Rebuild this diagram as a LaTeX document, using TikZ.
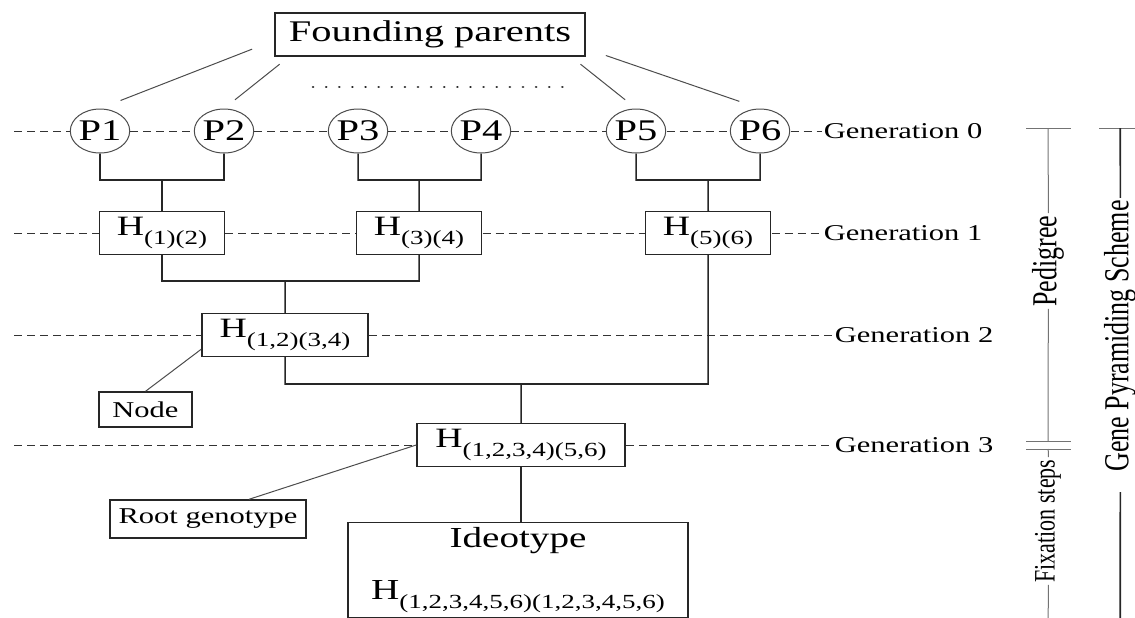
\documentclass[tikz,border=0pt]{standalone}
\usepackage{fontspec}
\setmainfont{Liberation Serif}
\newcommand{\hsub}[1]{H\raisebox{-4.2pt}{\fontsize{10}{12}\selectfont #1}}
\tikzset{
  gen/.style={draw=black!80, line width=0.5pt, dash pattern=on 4pt off 2.5pt},
  tree/.style={draw=black!85, line width=0.8pt},
  link/.style={draw=black!70, line width=0.5pt},
  dots/.style={draw=black!85, line width=1.4pt, line cap=round, dash pattern=on 0.01pt off 6.55pt},
  bar/.style={draw=black!55, line width=0.5pt},
  parent/.style={circle, draw=black!70, line width=0.5pt, minimum size=22pt, inner sep=0pt, font=\fontsize{15}{18}\selectfont},
  hbox/.style={rectangle, draw=black!85, line width=0.7pt, minimum width=46.3pt, minimum height=21.5pt, inner sep=0pt, font=\fontsize{14}{17}\selectfont},
  tagbox/.style={rectangle, draw=black!85, line width=0.7pt, inner sep=0pt, font=\fontsize{11.3}{13}\selectfont},
  genlabel/.style={anchor=west, inner sep=0.5pt, font=\fontsize{11.3}{13}\selectfont},
  sidetext/.style={rotate=90, inner sep=1pt, font=\fontsize{11}{13}\selectfont}
}
\begin{document}
\begin{tikzpicture}[xscale=1.35, x=0.37037pt, y=-0.5pt, every node/.style={transform shape}]
    \useasboundingbox (0,0) rectangle (1135,618);
    % founding parents and generation 0
    \node[hbox, minimum width=114.8pt, font=\fontsize{15}{18}\selectfont] (fp) at (430,34.5) {Founding parents};
    \node[parent] (p1) at (100,131) {P1};
    \node[parent] (p2) at (224,131) {P2};
    \node[parent] (p3) at (358,131) {P3};
    \node[parent] (p4) at (481,131) {P4};
    \node[parent] (p5) at (636,131) {P5};
    \node[parent] (p6) at (760,131) {P6};
    % haplotype nodes
    \node[hbox] (h12) at (162,233) {\hsub{(1)(2)}};
    \node[hbox] (h34) at (419,233) {\hsub{(3)(4)}};
    \node[hbox] (h56) at (708,233) {\hsub{(5)(6)}};
    \node[hbox, minimum width=61.5pt] (h1234) at (285,335) {\hsub{(1,2)(3,4)}};
    \node[hbox, minimum width=77pt] (h3) at (521,445) {\hsub{(1,2,3,4)(5,6)}};
    \node[hbox, minimum width=126pt, minimum height=47.5pt, align=center, font=\fontsize{14.5}{17.5}\selectfont] (ideo) at (518,570)
        {Ideotype\\[8.5pt]\hsub{(1,2,3,4,5,6)(1,2,3,4,5,6)}};
    \node[tagbox, minimum width=34.4pt, minimum height=17.5pt] (nd) at (145.5,409.5) {Node};
    \node[tagbox, minimum width=72.6pt, minimum height=19pt] (root) at (208,519) {Root genotype};
    % generation labels
    \node[genlabel] (g0) at (822,131) {Generation 0};
    \node[genlabel] (g1) at (822,233) {Generation 1};
    \node[genlabel] (g2) at (833,335) {Generation 2};
    \node[genlabel] (g3) at (833,445) {Generation 3};
    \coordinate (s0) at (14,131);
    \coordinate (s1) at (14,233);
    \coordinate (s2) at (14,335);
    \coordinate (s3) at (14,445);
    \draw[gen] (s0) edge (p1) (p1) edge (p2) (p2) edge (p3) (p3) edge (p4)
        (p4) edge (p5) (p5) edge (p6) (p6) edge (g0);
    \draw[gen] (s1) edge (h12) (h12) edge (h34) (h34) edge (h56) (h56) edge (g1);
    \draw[gen] (s2) edge (h1234) (h1234) edge (g2);
    \draw[gen] (s3) edge (h3) (h3) edge (g3);
    % lines from the founding parents
    \draw[link, shorten <=11.8pt, shorten >=11pt] (fp.183) -- (p1.north);
    \draw[link, shorten <=6pt, shorten >=7pt] (fp.192) -- (p2.north);
    \draw[link, shorten <=6pt, shorten >=7pt] (fp.348) -- (p5.north);
    \draw[link, shorten <=10.5pt, shorten >=11pt] (fp.353) -- (p6.north);
    \coordinate (d1) at (313,87);
    \coordinate (d2) at (563,87);
    \draw[dots] (d1) -- (d2);
    % crosses
    \coordinate (j12) at (162,180);
    \coordinate (j34) at (419,180);
    \coordinate (j56) at (708,180);
    \coordinate (j1234) at (285,281);
    \coordinate (j3) at (521,384);
    \draw[tree] (p1.south) |- (j12) -| (p2.south) (j12) -- (h12);
    \draw[tree] (p3.south) |- (j34) -| (p4.south) (j34) -- (h34);
    \draw[tree] (p5.south) |- (j56) -| (p6.south) (j56) -- (h56);
    \draw[tree] (h12.south) |- (j1234) -| (h34.south) (j1234) -- (h1234);
    \draw[tree] (h1234.south) |- (j3) -| (h56.south) (j3) -- (h3);
    \draw[tree] (h3.south) -- (h3.south |- ideo.north);
    \draw[link] (nd.north) -- (h1234.193);
    \draw[link] (root.33) -- (h3.west);
    % brackets on the right
    \node[sidetext, font=\fontsize{13}{15}\selectfont] (ped) at (1048,261) {Pedigree};
    \node[sidetext] (fix) at (1048,521) {Fixation steps};
    \node[sidetext, font=\fontsize{13}{15}\selectfont] (gps) at (1120,336) {Gene Pyramiding Scheme};
    \coordinate (ptop) at (1048,128);
    \coordinate (pmid) at (1048,441);
    \coordinate (fmid) at (1048,449);
    \coordinate (pbot) at (1048,618);
    \coordinate (gtop) at (1120,128);
    \coordinate (gbot) at (1120,618);
    \draw[bar] (ptop) ++(-22,0) -- ++(45,0);
    \draw[bar] (pmid) ++(-22,0) -- ++(45,0);
    \draw[bar] (fmid) ++(-22,0) -- ++(45,0);
    \draw[bar] (ptop) -- (ped) (ped) -- (pmid);
    \draw[bar] (fmid) -- (fix) (fix) -- (pbot);
    \draw[bar] (gtop) ++(-21,0) -- ++(36,0);
    \draw[tree] (gtop) -- (gps);
    \draw[tree, shorten <=9pt] (gps) -- (gbot);
\end{tikzpicture}
\end{document}
